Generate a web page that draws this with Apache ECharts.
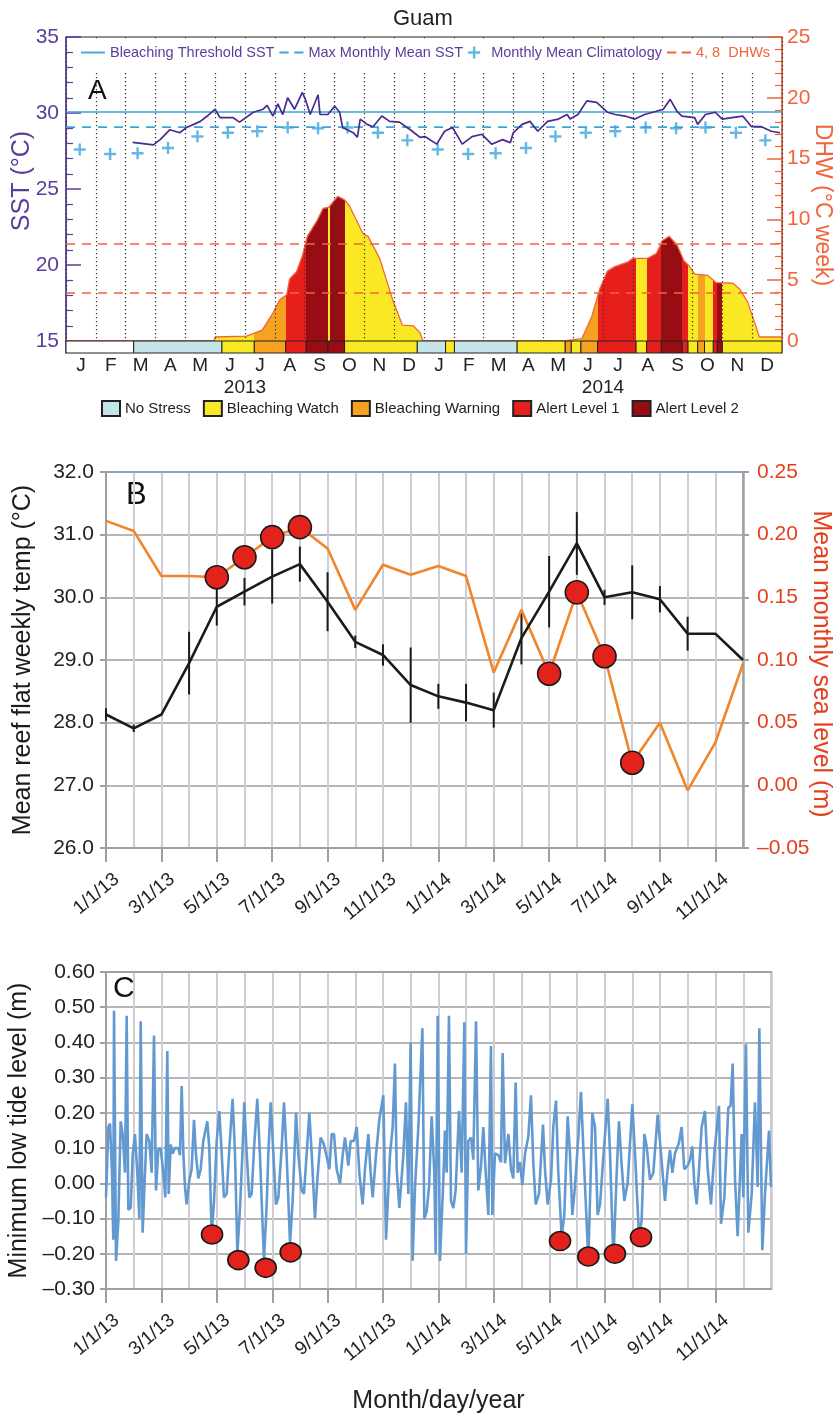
<!DOCTYPE html>
<html>
<head>
<meta charset="utf-8">
<title>Guam</title>
<script src="https://cdn.jsdelivr.net/npm/echarts@6.0.0/dist/echarts.min.js"></script>
<style>
  html, body { margin: 0; padding: 0; background: #fff; }
  #chart { width: 835px; height: 1417px; }
</style>
</head>
<body>
<div id="chart"></div>
<script>
// ---- panel A : SST / DHW ----
const panelAMonths = ['2013-01','2013-02','2013-03','2013-04','2013-05','2013-06','2013-07','2013-08','2013-09','2013-10','2013-11','2013-12',
  '2014-01','2014-02','2014-03','2014-04','2014-05','2014-06','2014-07','2014-08','2014-09','2014-10','2014-11','2014-12'];
const monthLetters = ['J','F','M','A','M','J','J','A','S','O','N','D'];
const yearLabels = ['2013', '2014'];

const bleachingThreshold = 30.07;
const maxMonthlyMean = 29.07;
const dhwLevels = [4, 8];
const climatology = [27.6, 27.3, 27.35, 27.7, 28.45, 28.7, 28.8, 29.05, 29.0, 29.05, 28.7, 28.2];

const sstReadings = [
  ['2013-03-10',28.07],['2013-03-31',27.9],['2013-04-07',28.25],['2013-04-17',28.9],['2013-04-27',28.7],
  ['2013-05-04',29.05],['2013-05-18',29.45],['2013-05-25',29.8],['2013-06-02',30.25],['2013-06-07',29.7],
  ['2013-06-20',29.7],['2013-06-27',29.4],['2013-07-11',30.05],['2013-07-21',30.25],['2013-07-25',30.5],
  ['2013-07-31',29.8],['2013-08-05',30.6],['2013-08-10',29.9],['2013-08-15',31.0],['2013-08-22',30.25],
  ['2013-08-30',31.35],['2013-09-02',30.9],['2013-09-07',29.9],['2013-09-15',31.2],['2013-09-17',29.9],
  ['2013-09-25',29.9],['2013-10-02',30.45],['2013-10-07',30.05],['2013-10-10',29.05],['2013-10-21',28.7],
  ['2013-10-25',28.4],['2013-10-28',29.6],['2013-11-04',29.25],['2013-11-10',29.1],['2013-11-19',29.8],
  ['2013-11-27',29.45],['2013-12-07',29.4],['2013-12-18',28.9],['2013-12-28',28.4],['2014-01-02',28.45],
  ['2014-01-14',27.95],['2014-01-22',28.8],['2014-01-30',29.05],['2014-02-09',27.95],['2014-02-19',28.45],
  ['2014-03-01',28.6],['2014-03-11',27.95],['2014-03-22',28.25],['2014-03-30',28.05],['2014-04-02',28.7],
  ['2014-04-11',29.25],['2014-04-19',29.45],['2014-04-27',28.8],['2014-05-07',29.45],['2014-05-18',29.6],
  ['2014-05-27',29.9],['2014-05-30',29.6],['2014-06-07',29.9],['2014-06-16',30.8],['2014-06-26',30.7],
  ['2014-07-07',30.05],['2014-07-15',29.9],['2014-07-25',29.8],['2014-08-04',29.6],['2014-08-14',29.9],
  ['2014-08-25',30.1],['2014-09-02',30.25],['2014-09-09',30.9],['2014-09-16',30.1],['2014-09-21',29.8],
  ['2014-10-04',29.7],['2014-10-07',29.25],['2014-10-15',29.9],['2014-10-25',30.05],['2014-11-01',29.6],
  ['2014-11-11',29.7],['2014-11-22',29.8],['2014-12-01',29.1],['2014-12-11',29.1],['2014-12-21',28.8],
  ['2014-12-30',28.7]
];

const dhwReadings = [
  ['2013-01-01',0],['2013-06-01',0],['2013-06-02',0.33],['2013-07-04',0.4],['2013-07-20',0.9],
  ['2013-07-31',2.3],['2013-08-07',3.4],['2013-08-14',3.8],['2013-08-17',5.1],['2013-08-24',5.7],
  ['2013-08-30',7.0],['2013-09-04',8.6],['2013-09-14',9.9],['2013-09-20',10.9],['2013-09-26',11.0],
  ['2013-10-05',11.9],['2013-10-12',11.6],['2013-10-17',11.1],['2013-10-31',8.8],['2013-11-05',8.6],
  ['2013-11-17',6.75],['2013-11-30',3.4],['2013-12-10',1.3],['2013-12-21',1.25],['2013-12-28',0.67],
  ['2013-12-31',0],['2014-05-24',0],['2014-05-25',0.15],['2014-06-11',0.2],['2014-06-21',2.0],
  ['2014-06-29',4.25],['2014-07-07',5.75],['2014-07-14',6.1],['2014-07-28',6.5],['2014-08-02',6.8],
  ['2014-08-17',6.8],['2014-08-26',7.2],['2014-09-01',8.25],['2014-09-08',8.6],['2014-09-16',7.9],
  ['2014-09-23',6.6],['2014-09-28',6.2],['2014-10-04',5.5],['2014-10-17',5.4],['2014-10-26',4.8],
  ['2014-11-12',4.75],['2014-11-19',4.25],['2014-11-27',3.2],['2014-12-09',0.33],['2014-12-31',0.33]
];

// stress level: 0 no data, 1 no stress, 2 watch, 3 warning, 4 alert 1, 5 alert 2
const levelNames = ['', 'No Stress', 'Bleaching Watch', 'Bleaching Warning', 'Alert Level 1', 'Alert Level 2'];
const levelColors = ['#ffffff', '#c4e5ea', '#fbe824', '#f4a21f', '#e61f1c', '#980d13'];

const segFrom  = ['2013-01-01','2013-03-11','2013-06-09','2013-07-12','2013-08-13','2013-09-03','2013-09-25','2013-10-12',
  '2013-12-25','2014-01-23','2014-02-01','2014-04-06','2014-05-25','2014-05-31','2014-06-10','2014-06-27','2014-08-05',
  '2014-08-16','2014-08-31','2014-09-21','2014-09-27','2014-10-07','2014-10-14','2014-10-23','2014-10-27','2014-11-01'];
const segLevel = [0,1,2,3,4,5,5,2, 1,2,1,2,3,2,3,4,2, 4,5,4,2,3,2,4,5,2];

const areaFrom  = ['2013-06-01','2013-07-12','2013-08-13','2013-09-03','2013-09-25','2013-09-27','2013-10-12',
  '2014-05-25','2014-05-31','2014-06-10','2014-06-27','2014-08-05','2014-08-16','2014-08-31','2014-09-21',
  '2014-09-27','2014-10-07','2014-10-14','2014-10-23','2014-10-27','2014-11-01'];
const areaLevel = [2,3,4,5,2,5,2, 3,2,3,4,2,4,5,4, 2,3,2,4,5,2];

// ---- panel B : monthly reef flat temperature & sea level ----
const panelBMonths = ['1/1/13','2/1/13','3/1/13','4/1/13','5/1/13','6/1/13','7/1/13','8/1/13','9/1/13','10/1/13','11/1/13','12/1/13',
  '1/1/14','2/1/14','3/1/14','4/1/14','5/1/14','6/1/14','7/1/14','8/1/14','9/1/14','10/1/14','11/1/14','12/1/14'];
const reefTemp = [28.13, 27.91, 28.13, 28.95, 29.85, 30.09, 30.33, 30.53, 29.93, 29.29, 29.08, 28.6,
  28.42, 28.32, 28.2, 29.35, 30.09, 30.86, 30.0, 30.08, 29.97, 29.42, 29.42, 29.0];
const reefErr = [0.1, 0.06, 0, 0.5, 0.3, 0.22, 0.43, 0.28, 0.47, 0.1, 0.17, 0.6,
  0.2, 0.3, 0.28, 0.42, 0.57, 0.5, 0.12, 0.43, 0.21, 0.27, 0, 0];
const seaLevel = [0.211, 0.203, 0.167, 0.167, 0.166, 0.182, 0.198, 0.206, 0.189, 0.140, 0.176, 0.168,
  0.175, 0.167, 0.090, 0.140, 0.089, 0.154, 0.103, 0.018, 0.050, -0.004, 0.034, 0.097];
const bleachMonthIdx = [4, 5, 6, 7, 16, 17, 18, 19];

// ---- panel C : daily minimum low tide (day 0 = 1/1/13) ----
const panelCMonths = panelBMonths.concat(['1/1/15']);
const tideLowWater = [
  [0,-0.04],[2.6,0.16],[4.4,0.17],[6.6,0.03],[8,-0.16],[8.8,0.49],[11,-0.22],[13.5,-0.11],[16.1,0.176],[18.3,0.14],
  [20.9,0.03],[22.7,0.476],[24.5,-0.075],[27.1,-0.07],[29.3,0.08],[31.8,0.14],[34.4,0.03],[36.6,-0.1],[38.1,0.46],[40.2,-0.14],
  [42.8,0.03],[44.6,0.14],[47.6,0.12],[50.1,0.03],[52.7,0.42],[54.9,-0.02],[57.4,0.095],[60,0.1],[62.9,0.03],[65.1,-0.04],
  [67.3,0.376],[68.8,-0.03],[71,0.11],[73.2,0.085],[75.7,0.1],[79.4,0.1],[81.2,0.08],[83.1,0.276],[84.9,0.085],[86.7,-0.01],
  [88.5,-0.06],[91.5,0.01],[94,0.04],[96.6,0.18],[98.8,0.08],[101.4,0.014],[103.9,0.04],[106.8,0.12],[111.2,0.176],[113.4,0.1],
  [116,-0.145],[118.6,-0.05],[121.5,0.12],[124.4,0.205],[127,0.085],[129.5,-0.04],[132.5,-0.03],[135.4,0.1],[139,0.24],[141.6,0.085],
  [144.2,-0.2],[147.1,-0.07],[150,0.1],[151.8,0.23],[154.4,0.085],[157.3,-0.04],[159.9,-0.03],[162.5,0.1],[166.1,0.24],[169,0.08],
  [173.4,-0.22],[176.4,-0.06],[178.2,0.085],[180.8,0.23],[183.7,0.085],[186.6,-0.06],[189.2,-0.04],[192.8,0.1],[195.4,0.23],[198.3,0.08],
  [202,-0.17],[204.9,-0.05],[208.6,0.2],[211.2,0.08],[214.8,-0.02],[217.3,-0.03],[220.3,0.085],[223.2,0.2],[225.8,0.085],[229.4,-0.1],
  [232,0.01],[235.6,0.13],[238.6,0.115],[241.5,0.085],[245.2,0.04],[247.7,0.14],[250.3,0.14],[253.2,0.04],[256.9,0],[259.8,0.08],
  [262.4,0.13],[266,0.05],[268.6,0.12],[272.2,0.12],[275.2,0.16],[278.1,0.03],[281.7,-0.06],[284.3,0.04],[288,0.14],[290.5,0.03],
  [292.7,-0.04],[296.4,0.08],[300,0.18],[304.4,0.25],[307.4,-0.16],[311.7,0.08],[314.7,0.16],[317.2,0.34],[319.1,0.04],[322,-0.07],
  [326.4,0.08],[329.3,0.23],[331.9,-0.03],[334.4,0.4],[336.6,-0.22],[339.2,-0.01],[342.9,0.16],[347.3,0.44],[349.4,-0.1],[352,-0.08],
  [354.6,-0.01],[357.5,0.19],[360.4,0.03],[361.9,-0.2],[364.1,0.476],[366.6,-0.22],[370.3,0.01],[372.1,0.15],[374,0.03],[376.5,0.476],
  [378.7,-0.05],[381.3,-0.07],[383.8,-0.02],[387.5,0.205],[390.4,0.03],[393.4,0.457],[395.2,-0.2],[397.7,0.12],[400.7,0.13],[403.2,0.067],
  [406.2,0.46],[408.7,-0.02],[411.7,0.05],[414.2,0.16],[416.8,0.03],[419.7,-0.09],[422.6,0.39],[424.1,-0.09],[427,0.085],[430.7,0.08],
  [433.6,0.06],[435.4,0.37],[438,0.057],[441.7,0.14],[444.6,0.04],[447.1,0.014],[449.7,0.286],[451.9,0.03],[454.5,0.06],[457,-0.005],
  [460,0.085],[463.6,0.133],[466.5,0.25],[469.1,0.057],[471.7,-0.06],[475.3,-0.03],[479.7,0.167],[481.9,0.04],[484.8,-0.06],[488.5,0.01],
  [491,0.16],[494,0.235],[496.5,0.03],[500.2,-0.15],[503.1,-0.09],[506.8,0.19],[509.3,0.085],[511.9,-0.09],[514.8,-0.01],[518.5,0.133],
  [521.4,0.26],[524,0.1],[529.5,-0.22],[533.9,0.2],[536.8,0.16],[539.7,-0.09],[542.3,-0.06],[546,0.076],[550.7,0.24],[553.3,0.085],
  [557,-0.22],[560.6,0.03],[563.1,0.176],[566.1,0.05],[569,-0.05],[572.6,0],[577.8,0.224],[580.7,0.085],[585.1,-0.15],[588,-0.105],
  [591,0.14],[593.5,0.105],[597.2,0.01],[600.8,0.03],[605.6,0.195],[609.2,0.085],[613.6,-0.05],[616.6,0.04],[619.1,0.095],[621.7,0.03],
  [624.6,0.085],[629,0.115],[631.9,0.16],[634.8,0.04],[638.5,0.05],[641.1,0.067],[643.6,0.105],[645.8,0],[648.4,-0.06],[651,0.04],
  [653.9,0.16],[657.5,0.205],[660.5,0.04],[664.1,-0.06],[667.8,0.085],[672.9,0.22],[675.1,-0.115],[678.8,-0.04],[683.1,0.214],[685.7,0.22],
  [687.9,0.34],[690.5,0.01],[693.4,-0.15],[697.8,0.14],[699.6,-0.04],[702.5,0.395],[705.1,-0.14],[708.8,-0.03],[712.4,0.23],[715.4,-0.01],
  [717.2,0.44],[720.5,-0.19],[723.4,-0.03],[727.8,0.15],[730,-0.01]
];
const tideDots = [[116.4,-0.145],[145.3,-0.218],[175.3,-0.24],[202.7,-0.196],[498.4,-0.164],[529.5,-0.208],[558.7,-0.2],[587.3,-0.153]];

// ---- styling ----
const FONT = "'Liberation Sans', Arial, sans-serif";
const PURPLE = '#5b3d9b';
const SKY = '#3ba5de';
const DHW_ORANGE = '#f0653b';
const GRID_GRAY = '#a0a0a0';
const SOFT_GRAY = '#cdcdd3';
const DOT_RED = '#e3221b';
const SEA_RED = '#e4401d';
const SOLID_ICON = 'path://M0,0H26V2H0Z';
const DASH_ICON = 'path://M0,0H10V2H0Z M16,0H26V2H16Z';

const ts = s => new Date(s + 'T00:00:00').getTime();
const A_START = ts('2013-01-01');
const A_END = ts('2015-01-01');
const pad = n => (n < 10 ? '0' : '') + n;
const dashNum = v => (v < -1e-9 ? '\u2013' + Math.abs(v).toFixed(2) : Math.abs(v).toFixed(2));

const climatologyPoints = [];
yearLabels.forEach(y => climatology.forEach((v, m) => climatologyPoints.push([y + '-' + pad(m + 1) + '-15', v])));

const segTo = segFrom.slice(1).concat(['2015-01-01']);
const areaTo = areaFrom.slice(1).concat(['2015-01-01']);

function renderStripCell(params, api) {
  const a = api.coord([api.value(0), 1]);
  const b = api.coord([api.value(1), 0]);
  return {
    type: 'rect',
    shape: { x: a[0], y: a[1], width: b[0] - a[0], height: b[1] - a[1] },
    style: api.style()
  };
}

function renderErrorBar(params, api) {
  const lo = api.coord([api.value(0), api.value(1)]);
  const hi = api.coord([api.value(0), api.value(2)]);
  return {
    type: 'line',
    shape: { x1: lo[0], y1: lo[1], x2: hi[0], y2: hi[1] },
    style: { stroke: '#1b1b1b', lineWidth: 2 }
  };
}

const series = [
  {
    name: 'Bleaching Threshold SST', type: 'line', xAxisIndex: 0, yAxisIndex: 0,
    data: [[A_START, bleachingThreshold], [A_END, bleachingThreshold]],
    symbol: 'none', lineStyle: { color: SKY, width: 1.6 }, itemStyle: { color: SKY }
  },
  {
    name: 'Max Monthly Mean SST', type: 'line', xAxisIndex: 0, yAxisIndex: 0,
    data: [[A_START, maxMonthlyMean], [A_END, maxMonthlyMean]],
    symbol: 'none', lineStyle: { color: SKY, width: 1.6, type: [9, 7] }, itemStyle: { color: SKY }
  },
  {
    name: 'Monthly Mean Climatology', type: 'scatter', xAxisIndex: 0, yAxisIndex: 0,
    data: climatologyPoints, symbol: 'path://M4,0H6V4H10V6H6V10H4V6H0V4H4Z', symbolSize: 12,
    itemStyle: { color: SKY }, z: 4
  },
  {
    name: '4, 8  DHWs', type: 'line', xAxisIndex: 0, yAxisIndex: 1, data: [],
    symbol: 'none', lineStyle: { color: DHW_ORANGE, width: 1.6, type: [9, 7] }, itemStyle: { color: DHW_ORANGE },
    markLine: {
      silent: true, symbol: 'none', label: { show: false },
      lineStyle: { color: DHW_ORANGE, width: 1.6, type: [9, 7] },
      data: dhwLevels.map(v => ({ yAxis: v }))
    }
  },
  {
    name: 'dhwFill', type: 'line', xAxisIndex: 0, yAxisIndex: 1, data: dhwReadings,
    symbol: 'none', lineStyle: { width: 0 }, areaStyle: { opacity: 1 }, z: 1
  },
  {
    name: 'dhwLine', type: 'line', xAxisIndex: 0, yAxisIndex: 1, data: dhwReadings,
    symbol: 'none', lineStyle: { color: DHW_ORANGE, width: 1.3 }, z: 2
  },
  {
    name: 'SST', type: 'line', xAxisIndex: 0, yAxisIndex: 0, data: sstReadings,
    symbol: 'none', lineStyle: { color: '#4a2b8c', width: 1.7 }, z: 5
  }
];
const dhwFillIndex = 4;

levelColors.forEach((color, level) => {
  series.push({
    name: levelNames[level] || 'No Data', type: 'custom', xAxisIndex: 2, yAxisIndex: 2, z: 3,
    itemStyle: { color: color, borderColor: '#222', borderWidth: 1 },
    encode: { x: [0, 1] },
    data: segFrom.map((d, i) => [ts(d), ts(segTo[i]), segLevel[i]]).filter(s => s[2] === level),
    renderItem: renderStripCell
  });
});

series.push(
  {
    name: 'Mean monthly sea level', type: 'line', xAxisIndex: 5, yAxisIndex: 5, data: seaLevel,
    symbol: 'none', lineStyle: { color: '#f0852c', width: 2.6 }
  },
  {
    name: 'Mean reef flat weekly temp', type: 'line', xAxisIndex: 5, yAxisIndex: 4, data: reefTemp,
    symbol: 'none', lineStyle: { color: '#1b1b1b', width: 2.6 }
  },
  {
    name: 'temp error', type: 'custom', xAxisIndex: 5, yAxisIndex: 4,
    encode: { x: 0, y: [1, 2] },
    data: reefTemp.map((v, i) => [i, v - reefErr[i], v + reefErr[i], reefErr[i]]).filter(d => d[3] > 0),
    renderItem: renderErrorBar
  },
  {
    name: 'bleaching months', type: 'scatter', xAxisIndex: 5, yAxisIndex: 5, z: 5,
    data: bleachMonthIdx.map(i => [i, seaLevel[i]]), symbolSize: 23,
    itemStyle: { color: DOT_RED, borderColor: '#1a1a1a', borderWidth: 1.6, opacity: 1 }
  },
  {
    name: 'Minimum low tide level', type: 'line', xAxisIndex: 7, yAxisIndex: 6, data: tideLowWater,
    symbol: 'none', lineStyle: { color: '#6399d1', width: 2.6 }
  },
  {
    name: 'bleaching low tides', type: 'scatter', xAxisIndex: 7, yAxisIndex: 6, z: 5,
    data: tideDots, symbolSize: [21, 19],
    itemStyle: { color: DOT_RED, borderColor: '#1a1a1a', borderWidth: 1.6, opacity: 1 }
  }
);

const dateLabel = { rotate: 40, margin: 38, padding: [0, -14, 0, 0], fontSize: 19, color: '#222' };

const option = {
  animation: false,
  backgroundColor: '#fff',
  textStyle: { fontFamily: FONT },
  title: {
    text: 'Guam', left: 388, top: 3,
    textStyle: { fontSize: 22, fontWeight: 'normal', color: '#222', fontFamily: FONT }
  },
  legend: [
    {
      data: [
        { name: 'Bleaching Threshold SST', icon: SOLID_ICON },
        { name: 'Max Monthly Mean SST', icon: DASH_ICON },
        { name: 'Monthly Mean Climatology' },
        { name: '4, 8  DHWs', icon: DASH_ICON, textStyle: { color: DHW_ORANGE } }
      ],
      top: 39, left: 78, itemGap: 5, itemWidth: 24, itemHeight: 12, padding: [6, 3, 13, 3],
      backgroundColor: '#fff', selectedMode: false,
      textStyle: { color: PURPLE, fontSize: 14.5 }
    },
    {
      data: levelNames.slice(1),
      top: 400, left: 101, itemGap: 12, itemWidth: 18, itemHeight: 15, padding: 0,
      icon: 'rect', selectedMode: false,
      textStyle: { color: '#222', fontSize: 15 }
    }
  ],
  visualMap: {
    type: 'piecewise', show: false, seriesIndex: dhwFillIndex, dimension: 0,
    pieces: areaFrom.map((d, i) => ({ gte: ts(d), lt: ts(areaTo[i]), color: levelColors[areaLevel[i]] })),
    outOfRange: { color: levelColors[2] }
  },
  grid: [
    { left: 66, right: 53, top: 37, height: 304, show: true, borderColor: '#222', borderWidth: 1, outerBoundsMode: 'none' },
    { left: 66, right: 53, top: 341, height: 12, outerBoundsMode: 'none' },
    { left: 106, right: 92, top: 472, height: 376, outerBoundsMode: 'none' },
    { left: 106, right: 64, top: 972, height: 317, outerBoundsMode: 'none' }
  ],
  xAxis: [
    { type: 'time', gridIndex: 0, min: A_START, max: A_END, show: false },
    {
      type: 'category', gridIndex: 0, position: 'bottom', data: panelAMonths, boundaryGap: true, z: 3,
      axisLine: { show: false, onZero: false }, axisTick: { show: false }, axisLabel: { show: false },
      splitLine: { show: true, interval: 0, lineStyle: { color: '#333', width: 1.2, type: [1.2, 2.8] } }
    },
    { type: 'time', gridIndex: 1, min: A_START, max: A_END, show: false },
    {
      type: 'category', gridIndex: 1, position: 'bottom', data: panelAMonths, boundaryGap: true,
      axisLine: { show: false, onZero: false }, axisTick: { show: false }, splitLine: { show: false },
      axisLabel: { interval: 0, margin: 3, fontSize: 19, color: '#222', formatter: (v, i) => monthLetters[i % 12] }
    },
    {
      type: 'category', gridIndex: 1, position: 'bottom', offset: 22, data: yearLabels, boundaryGap: true,
      axisLine: { show: false, onZero: false }, axisTick: { show: false }, splitLine: { show: false },
      axisLabel: { interval: 0, margin: 3, fontSize: 19, color: '#222' }
    },
    {
      type: 'category', gridIndex: 2, position: 'bottom', data: panelBMonths, boundaryGap: false,
      axisLine: { onZero: false, lineStyle: { color: GRID_GRAY, width: 2 } },
      axisTick: { interval: 1, length: 14, lineStyle: { color: GRID_GRAY, width: 2 } },
      axisLabel: Object.assign({ interval: 1 }, dateLabel),
      splitLine: { show: true, interval: 0, lineStyle: { color: SOFT_GRAY, width: 2 } }
    },
    {
      type: 'category', gridIndex: 2, position: 'top', data: panelBMonths, boundaryGap: false,
      axisLine: { onZero: false, lineStyle: { color: '#7f9bc9', width: 1.6 } }, axisTick: { show: false }, axisLabel: { show: false }
    },
    { type: 'value', gridIndex: 3, min: 0, max: 730, show: false },
    {
      type: 'category', gridIndex: 3, position: 'bottom', data: panelCMonths, boundaryGap: false,
      axisLine: { onZero: false, lineStyle: { color: GRID_GRAY, width: 2 } },
      axisTick: { interval: i => i % 2 === 0 && i < 24, length: 14, lineStyle: { color: GRID_GRAY, width: 2 } },
      axisLabel: Object.assign({ interval: i => i % 2 === 0 && i < 24 }, dateLabel),
      splitLine: { show: true, interval: 0, lineStyle: { color: SOFT_GRAY, width: 2 } },
      name: 'Month/day/year', nameLocation: 'middle', nameGap: 100,
      nameTextStyle: { fontSize: 25, color: '#222' }
    },
    {
      type: 'category', gridIndex: 3, position: 'top', data: panelCMonths, boundaryGap: false,
      axisLine: { onZero: false, lineStyle: { color: GRID_GRAY, width: 2 } }, axisTick: { show: false }, axisLabel: { show: false }
    }
  ],
  yAxis: [
    {
      type: 'value', gridIndex: 0, position: 'left', min: 15, max: 35, interval: 5,
      axisLine: { show: true, lineStyle: { color: PURPLE, width: 1.6 } },
      axisTick: { show: true, inside: true, length: 15, lineStyle: { color: PURPLE, width: 1.5 } },
      minorTick: { show: true, splitNumber: 5, length: 7, lineStyle: { color: PURPLE, width: 1.2 } },
      axisLabel: { color: PURPLE, fontSize: 21, margin: 7 },
      splitLine: { show: false }
    },
    {
      type: 'value', gridIndex: 0, position: 'right', min: 0, max: 25, interval: 5,
      axisLine: { show: true, lineStyle: { color: DHW_ORANGE, width: 1.6 } },
      axisTick: { show: true, inside: true, length: 15, lineStyle: { color: DHW_ORANGE, width: 1.5 } },
      minorTick: { show: true, splitNumber: 5, length: 7, lineStyle: { color: DHW_ORANGE, width: 1.2 } },
      axisLabel: { color: DHW_ORANGE, fontSize: 21, margin: 5 },
      splitLine: { show: false }
    },
    {
      type: 'value', gridIndex: 1, position: 'left', min: 0, max: 1,
      axisLine: { show: true, lineStyle: { color: PURPLE, width: 1.6 } },
      axisTick: { show: false }, axisLabel: { show: false }, splitLine: { show: false }
    },
    {
      type: 'value', gridIndex: 1, position: 'right', min: 0, max: 1,
      axisLine: { show: true, lineStyle: { color: DHW_ORANGE, width: 1.6 } },
      axisTick: { show: false }, axisLabel: { show: false }, splitLine: { show: false }
    },
    {
      type: 'value', gridIndex: 2, position: 'left', min: 26, max: 32, interval: 1,
      axisLine: { show: true, lineStyle: { color: GRID_GRAY, width: 2 } },
      axisTick: { show: true, length: 6, lineStyle: { color: GRID_GRAY, width: 2 } },
      axisLabel: { color: '#222', fontSize: 21, margin: 12, formatter: v => v.toFixed(1) },
      splitLine: { show: true, lineStyle: { color: '#9e9e9e', width: 1.6 } },
      name: 'Mean reef flat weekly temp (\u00b0C)', nameLocation: 'middle', nameGap: 70,
      nameTextStyle: { fontSize: 25, color: '#1b1b1b' }
    },
    {
      type: 'value', gridIndex: 2, position: 'right', min: -0.05, max: 0.25, interval: 0.05,
      axisLine: { show: true, lineStyle: { color: GRID_GRAY, width: 2.5 } },
      axisTick: { show: true, length: 6, lineStyle: { color: GRID_GRAY, width: 2 } },
      axisLabel: { color: SEA_RED, fontSize: 21, margin: 14, formatter: dashNum },
      splitLine: { show: false }
    },
    {
      type: 'value', gridIndex: 3, position: 'left', min: -0.3, max: 0.6, interval: 0.1,
      axisLine: { show: true, lineStyle: { color: GRID_GRAY, width: 2 } },
      axisTick: { show: true, length: 6, lineStyle: { color: GRID_GRAY, width: 2 } },
      axisLabel: { color: '#222', fontSize: 21, margin: 11, formatter: dashNum },
      splitLine: { show: true, lineStyle: { color: '#9e9e9e', width: 1.6 } },
      name: 'Minimum low tide level (m)', nameLocation: 'middle', nameGap: 70,
      nameTextStyle: { fontSize: 25, color: '#1b1b1b' }
    },
    {
      type: 'value', gridIndex: 3, position: 'right', min: -0.3, max: 0.6,
      axisLine: { show: true, lineStyle: { color: '#c9c9ce', width: 2.5 } },
      axisTick: { show: false }, axisLabel: { show: false }, splitLine: { show: false }
    }
  ],
  graphic: [
    { type: 'text', left: 88, top: 77, z: 10, style: { text: 'A', font: '28px ' + FONT, fill: '#111' } },
    { type: 'text', left: 126, top: 480, style: { text: 'B', font: '31px ' + FONT, fill: '#111' } },
    { type: 'text', left: 113, top: 974, style: { text: 'C', font: '30px ' + FONT, fill: '#111' } },
    {
      type: 'text', x: 22, y: 181, rotation: Math.PI / 2,
      style: { text: 'SST (\u00b0C)', font: '25px ' + FONT, fill: PURPLE, align: 'center', verticalAlign: 'middle' }
    },
    {
      type: 'text', x: 822, y: 205, rotation: -Math.PI / 2,
      style: { text: 'DHW (\u00b0C week)', font: '23px ' + FONT, fill: DHW_ORANGE, align: 'center', verticalAlign: 'middle' }
    },
    {
      type: 'text', x: 821, y: 664, rotation: -Math.PI / 2,
      style: { text: 'Mean monthly sea level (m)', font: '25px ' + FONT, fill: SEA_RED, align: 'center', verticalAlign: 'middle' }
    }
  ],
  series: series
};

const chart = echarts.init(document.getElementById('chart'));
chart.setOption(option);
</script>
</body>
</html>
